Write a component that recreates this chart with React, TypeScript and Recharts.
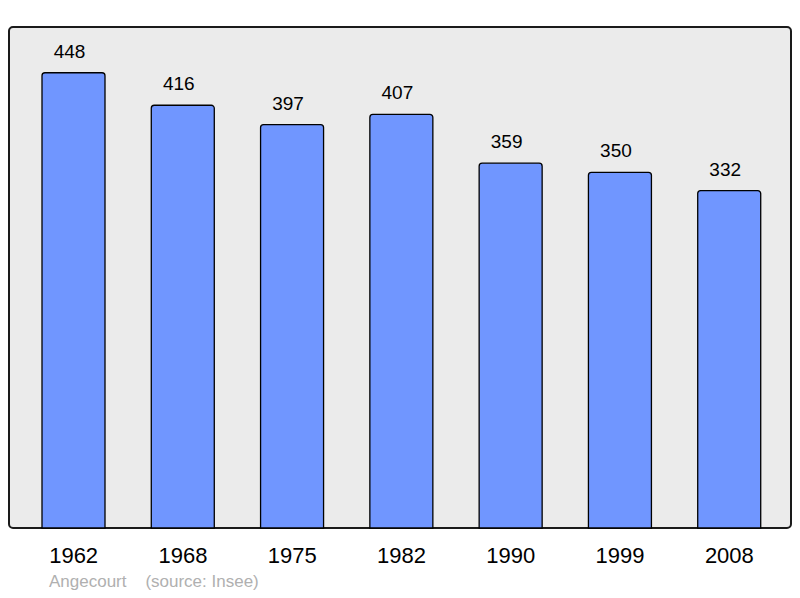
import React from 'react';
import { BarChart, Bar, XAxis, YAxis, LabelList } from 'recharts';

const years = ['1962', '1968', '1975', '1982', '1990', '1999', '2008'];
const population = [448, 416, 397, 407, 359, 350, 332];

const data = years.map((year, i) => ({ year, population: population[i] }));

const font = '"Liberation Sans", Arial, sans-serif';

const App: React.FC = () => {
  return (
    <div style={{ position: 'absolute', left: 0, top: 0, width: 800, height: 598, fontFamily: font }}>
      {/* grey panel behind the plot */}
      <div
        style={{
          position: 'absolute',
          left: 8,
          top: 26,
          width: 784,
          height: 503,
          boxSizing: 'border-box',
          border: '2px solid #1a1a1a',
          borderRadius: 5,
          background: '#ebebeb',
        }}
      />
      <div style={{ position: 'absolute', left: 0, top: 0 }}>
        <BarChart width={800} height={598} data={data} margin={{ top: 27, right: 9, bottom: 30, left: 9 }}>
          <XAxis
            dataKey="year"
            height={40}
            axisLine={false}
            tickLine={false}
            tickSize={0}
            tickMargin={19}
            padding={{ left: 10, right: 7 }}
            tick={{ fill: '#000', fontSize: 22, fontFamily: font }}
            interval={0}
          />
          <YAxis hide domain={[0, 493]} />
          <Bar
            dataKey="population"
            fill="#7096ff"
            stroke="#000"
            strokeWidth={1.3}
            barSize={63}
            radius={[3, 3, 0, 0]}
            isAnimationActive={false}
          >
            <LabelList dataKey="population" position="top" offset={15} dx={-4} fill="#000" fontSize={19} fontFamily={font} />
          </Bar>
        </BarChart>
      </div>
      <div
        style={{
          position: 'absolute',
          left: 49,
          top: 572,
          fontSize: 17,
          color: '#b0b0b0',
          whiteSpace: 'pre',
          lineHeight: '19px',
        }}
      >
        {'Angecourt    (source: Insee)'}
      </div>
    </div>
  );
};

export default App;
